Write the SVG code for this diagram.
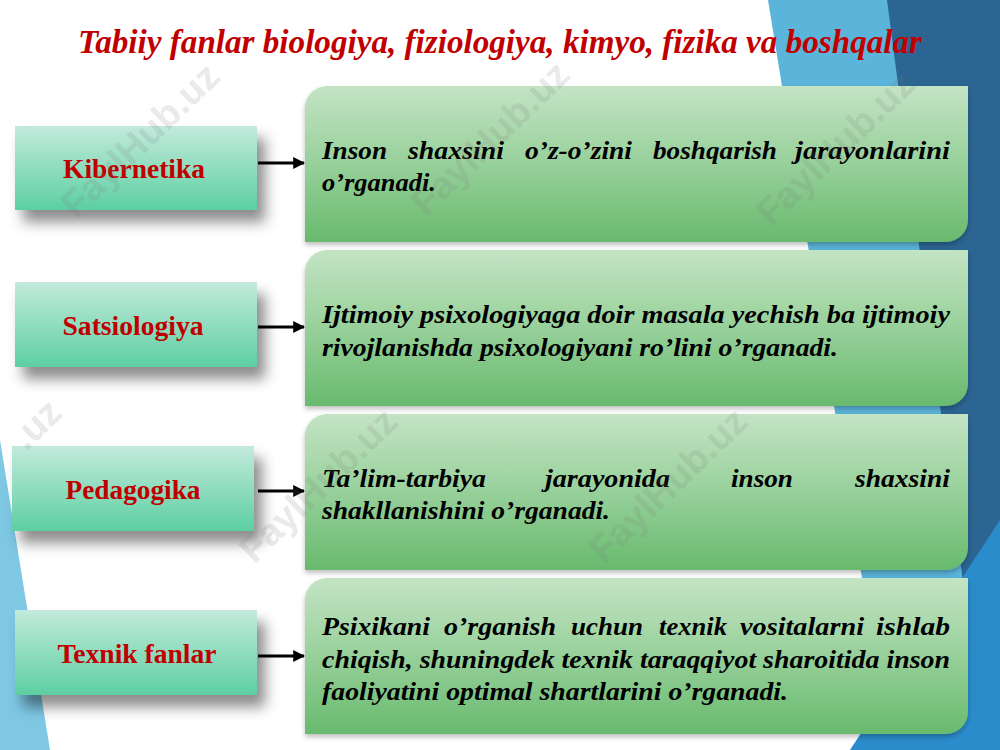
<svg xmlns="http://www.w3.org/2000/svg" width="1000" height="750" viewBox="0 0 1000 750">
<defs>
<linearGradient id="gLeft" x1="0" y1="0" x2="0" y2="1">
<stop offset="0" stop-color="#c3eadc"/>
<stop offset="1" stop-color="#5ccfa2"/>
</linearGradient>
<linearGradient id="gRight" x1="0" y1="0" x2="0" y2="1">
<stop offset="0" stop-color="#c4e4c4"/>
<stop offset="0.5" stop-color="#97d09a"/>
<stop offset="1" stop-color="#68ba6e"/>
</linearGradient>
<filter id="shL" x="-20%" y="-30%" width="150%" height="180%">
<feDropShadow dx="8" dy="12" stdDeviation="7" flood-color="#000" flood-opacity="0.45"/>
</filter>
<filter id="shR" x="-5%" y="-10%" width="110%" height="125%">
<feDropShadow dx="0" dy="3" stdDeviation="2.5" flood-color="#000" flood-opacity="0.25"/>
</filter>
<marker id="arr" viewBox="0 0 10 10" refX="9" refY="5" markerWidth="4" markerHeight="4" orient="auto" markerUnits="strokeWidth">
<path d="M0,0 L10,5 L0,10 Z" fill="#000"/>
</marker>
<style>
.title{font-family:"Liberation Serif","Times New Roman",serif;font-weight:bold;font-style:italic;font-size:33px;fill:#c00000}
.lbl{font-family:"Liberation Serif","Times New Roman",serif;font-weight:bold;font-size:27.5px;fill:#c00000;text-anchor:middle}
.txt{font-family:"Liberation Serif","Times New Roman",serif;font-weight:bold;font-style:italic;font-size:26px;fill:#000}
.lbox{fill:url(#gLeft);filter:url(#shL)}
.rbox{fill:url(#gRight);filter:url(#shR)}
.conn{stroke:#000;stroke-width:3;fill:none;marker-end:url(#arr)}
.wm{font-family:"Liberation Sans",Arial,sans-serif;font-weight:bold;font-size:38px;fill:#7a7a7a;fill-opacity:0.18;text-anchor:middle}
</style>
</defs>
<rect width="1000" height="750" fill="#ffffff"/>
<g id="background">
<polygon points="768,0 1000,0 1000,750 890,750" fill="#5bb4da"/>
<polygon points="887,0 1000,0 1000,750 985,750" fill="#2b6592"/>
<polygon points="1000,520 1000,750 850,750" fill="#2a8ccb"/>
<polygon points="0,440 50,750 0,750" fill="#7ec8e4"/>
</g>
<text id="title" class="title" x="78" y="53" textLength="844" lengthAdjust="spacingAndGlyphs">Tabiiy fanlar biologiya, fiziologiya, kimyo, fizika va boshqalar</text>

<g id="kibernetika">
<rect class="lbox" x="15" y="126" width="242" height="84"/>
<text class="lbl" x="134" y="178" textLength="142" lengthAdjust="spacingAndGlyphs">Kibernetika</text>
</g>
<g id="satsiologiya">
<rect class="lbox" x="15" y="282" width="242" height="85"/>
<text class="lbl" x="133" y="335" textLength="141" lengthAdjust="spacingAndGlyphs">Satsiologiya</text>
</g>
<g id="pedagogika">
<rect class="lbox" x="12" y="446" width="242" height="85"/>
<text class="lbl" x="133" y="499" textLength="135" lengthAdjust="spacingAndGlyphs">Pedagogika</text>
</g>
<g id="texnik">
<rect class="lbox" x="15" y="610" width="242" height="85"/>
<text class="lbl" x="137" y="663" textLength="159" lengthAdjust="spacingAndGlyphs">Texnik fanlar</text>
</g>

<g id="desc1">
<path class="rbox" d="M305,108 A22,22 0 0 1 327,86 H968 V220 A22,22 0 0 1 946,242 H305 Z"/>
<text class="txt" y="159"><tspan x="322" textLength="65" lengthAdjust="spacingAndGlyphs">Inson</tspan><tspan x="408" textLength="96" lengthAdjust="spacingAndGlyphs">shaxsini</tspan><tspan x="525" textLength="107" lengthAdjust="spacingAndGlyphs">o’z-o’zini</tspan><tspan x="653" textLength="124" lengthAdjust="spacingAndGlyphs">boshqarish</tspan><tspan x="795" textLength="155" lengthAdjust="spacingAndGlyphs">jarayonlarini</tspan></text>
<text class="txt" x="322" y="191" textLength="114" lengthAdjust="spacingAndGlyphs">o’rganadi.</text>
</g>
<g id="desc2">
<path class="rbox" d="M305,272 A22,22 0 0 1 327,250 H968 V384 A22,22 0 0 1 946,406 H305 Z"/>
<text class="txt" x="322" y="323" textLength="628" lengthAdjust="spacingAndGlyphs">Ijtimoiy psixologiyaga doir masala yechish ba ijtimoiy</text>
<text class="txt" x="322" y="356" textLength="516" lengthAdjust="spacingAndGlyphs">rivojlanishda psixologiyani ro’lini o’rganadi.</text>
</g>
<g id="desc3">
<path class="rbox" d="M305,436 A22,22 0 0 1 327,414 H968 V548 A22,22 0 0 1 946,570 H305 Z"/>
<text class="txt" y="487"><tspan x="322" textLength="164" lengthAdjust="spacingAndGlyphs">Ta’lim-tarbiya</tspan><tspan x="545" textLength="125" lengthAdjust="spacingAndGlyphs">jarayonida</tspan><tspan x="731" textLength="62" lengthAdjust="spacingAndGlyphs">inson</tspan><tspan x="855" textLength="95" lengthAdjust="spacingAndGlyphs">shaxsini</tspan></text>
<text class="txt" x="322" y="519" textLength="288" lengthAdjust="spacingAndGlyphs">shakllanishini o’rganadi.</text>
</g>
<g id="desc4">
<path class="rbox" d="M305,600 A22,22 0 0 1 327,578 H968 V712 A22,22 0 0 1 946,734 H305 Z"/>
<text class="txt" y="635"><tspan x="322" textLength="108" lengthAdjust="spacingAndGlyphs">Psixikani</tspan><tspan x="444" textLength="112" lengthAdjust="spacingAndGlyphs">o’rganish</tspan><tspan x="571" textLength="72" lengthAdjust="spacingAndGlyphs">uchun</tspan><tspan x="659" textLength="68" lengthAdjust="spacingAndGlyphs">texnik</tspan><tspan x="740" textLength="124" lengthAdjust="spacingAndGlyphs">vositalarni</tspan><tspan x="876" textLength="74" lengthAdjust="spacingAndGlyphs">ishlab</tspan></text>
<text class="txt" x="322" y="668" textLength="628" lengthAdjust="spacingAndGlyphs">chiqish, shuningdek texnik taraqqiyot sharoitida inson</text>
<text class="txt" x="322" y="700" textLength="466" lengthAdjust="spacingAndGlyphs">faoliyatini optimal shartlarini o’rganadi.</text>
</g>

<g id="connectors">
<line class="conn" x1="258" y1="163" x2="304" y2="163"/>
<line class="conn" x1="258" y1="327" x2="304" y2="327"/>
<line class="conn" x1="258" y1="491" x2="304" y2="491"/>
<line class="conn" x1="258" y1="656" x2="304" y2="656"/>
</g>

<g id="watermarks">
<text class="wm" transform="translate(140,140) rotate(-44)" y="13">FaylHub.uz</text>
<text class="wm" transform="translate(490,138) rotate(-44)" y="13">FaylHub.uz</text>
<text class="wm" transform="translate(835,148) rotate(-44)" y="13">FaylHub.uz</text>
<text class="wm" transform="translate(36,424) rotate(-44)" y="13">.uz</text>
<text class="wm" transform="translate(318,485) rotate(-44)" y="13">FaylHub.uz</text>
<text class="wm" transform="translate(668,485) rotate(-44)" y="13">FaylHub.uz</text>
</g>
</svg>
